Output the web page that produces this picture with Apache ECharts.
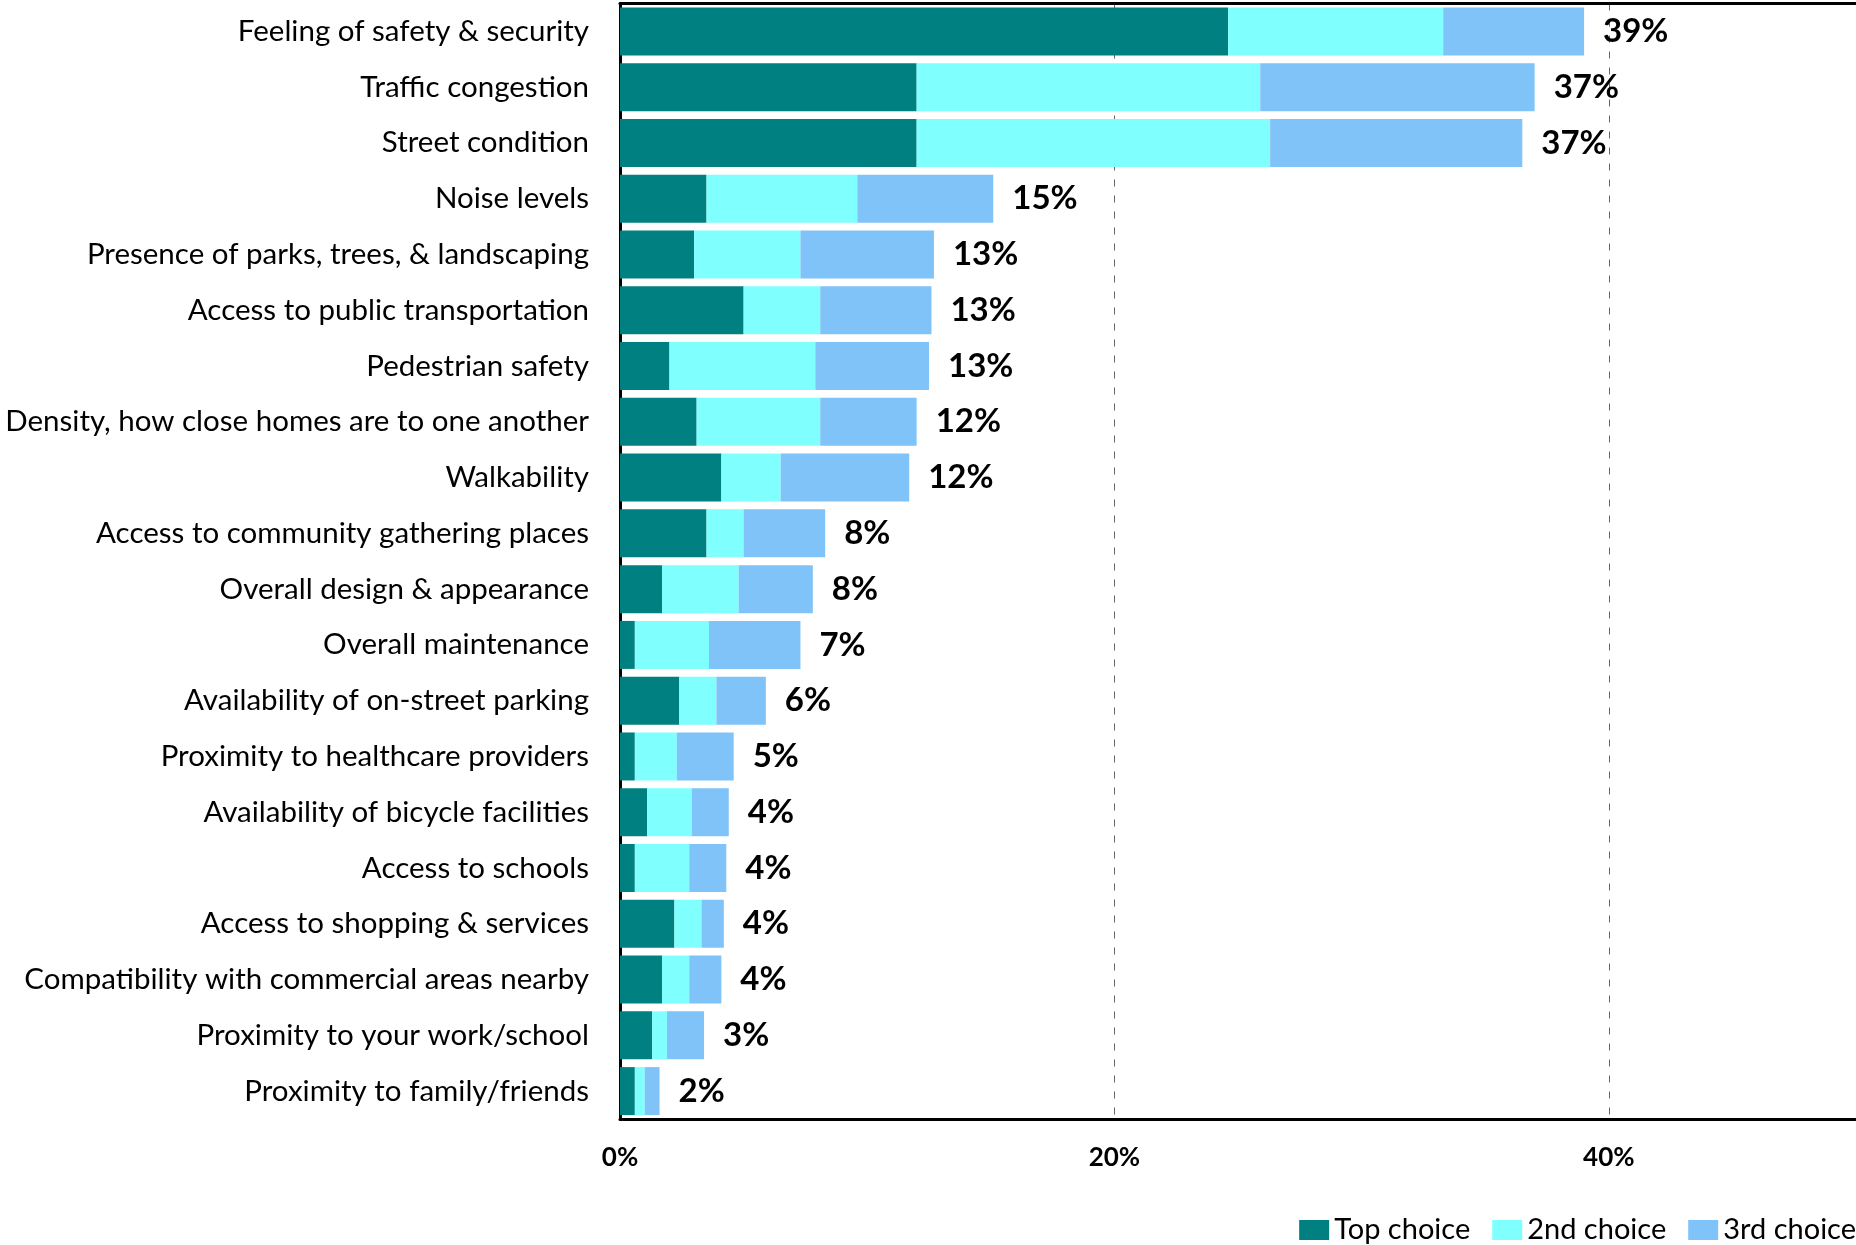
<!DOCTYPE html>
<html>
<head>
<meta charset="utf-8">
<title>Neighborhood priorities</title>
<script src="https://cdn.jsdelivr.net/npm/echarts@6/dist/echarts.min.js"></script>
<style>
  html, body { margin: 0; padding: 0; background: #fff; }
  #chart { width: 1856px; height: 1245px; }
</style>
</head>
<body>
<div id="chart"></div>
<script>
// Survey items, top to bottom
const categories = [
  'Feeling of safety & security',
  'Traffic congestion',
  'Street condition',
  'Noise levels',
  'Presence of parks, trees, & landscaping',
  'Access to public transportation',
  'Pedestrian safety',
  'Density, how close homes are to one another',
  'Walkability',
  'Access to community gathering places',
  'Overall design & appearance',
  'Overall maintenance',
  'Availability of on-street parking',
  'Proximity to healthcare providers',
  'Availability of bicycle facilities',
  'Access to schools',
  'Access to shopping & services',
  'Compatibility with commercial areas nearby',
  'Proximity to your work/school',
  'Proximity to family/friends'
];

// Share of respondents (%) per rank
const topChoice    = [24.6, 12.0, 12.0, 3.5, 3.0, 5.0, 2.0, 3.1, 4.1, 3.5, 1.7, 0.6, 2.4, 0.6, 1.1, 0.6, 2.2, 1.7, 1.3, 0.6];
const secondChoice = [ 8.7, 13.9, 14.3, 6.1, 4.3, 3.1, 5.9, 5.0, 2.4, 1.5, 3.1, 3.0, 1.5, 1.7, 1.8, 2.2, 1.1, 1.1, 0.6, 0.4];
const thirdChoice  = [ 5.7, 11.1, 10.2, 5.5, 5.4, 4.5, 4.6, 3.9, 5.2, 3.3, 3.0, 3.7, 2.0, 2.3, 1.5, 1.5, 0.9, 1.3, 1.5, 0.6];

const seriesNames = ['Top choice', '2nd choice', '3rd choice'];
const xTicks = [0, 20, 40];
const xMax = 50;

const totals = categories.map((_, i) => topChoice[i] + secondChoice[i] + thirdChoice[i]);

const FONT = 'Lato, "Open Sans", sans-serif';
const colors = ['#008080', '#80FFFF', '#7FC3F8'];

const chart = echarts.init(document.getElementById('chart'), null, { renderer: 'canvas' });

function barSeries(name, data, color, withTotal) {
  const s = {
    name: name,
    type: 'bar',
    stack: 'rank',
    data: data,
    barWidth: 48,
    itemStyle: { color: color },
    emphasis: { disabled: true },
    animation: false
  };
  if (withTotal) {
    s.label = {
      show: true,
      position: 'right',
      distance: 19,
      fontFamily: FONT,
      fontWeight: 'bold',
      fontSize: 33,
      color: '#000',
      formatter: p => Math.round(totals[p.dataIndex]) + '%'
    };
  }
  return s;
}

chart.setOption({
  backgroundColor: '#fff',
  animation: false,
  color: colors,
  grid: {
    left: 620,
    width: 1238,
    top: 3.5,
    height: 1115.5
  },
  legend: {
    data: seriesNames,
    right: 0,
    top: 1212,
    padding: 0,
    itemWidth: 30,
    itemHeight: 20,
    itemGap: 22,
    icon: 'rect',
    textStyle: { fontFamily: FONT, fontSize: 29, color: '#000', lineHeight: 36 }
  },
  xAxis: [
    {
      type: 'value',
      min: xTicks[0],
      max: xMax,
      interval: xTicks[1] - xTicks[0],
      axisLine: { show: true, lineStyle: { color: '#000', width: 3 } },
      axisTick: { show: false },
      splitLine: { show: true, lineStyle: { color: '#666', width: 1, type: [7, 9] } },
      axisLabel: {
        margin: 26,
        showMaxLabel: false,
        fontFamily: FONT,
        fontWeight: 'bold',
        fontSize: 26,
        color: '#000',
        formatter: v => v + '%'
      }
    },
    {
      // top edge of the plot frame
      type: 'value',
      position: 'top',
      min: xTicks[0],
      max: xMax,
      interval: xTicks[1] - xTicks[0],
      axisLine: { show: true, lineStyle: { color: '#000', width: 3 } },
      axisTick: { show: false },
      splitLine: { show: false },
      axisLabel: { show: false }
    }
  ],
  yAxis: {
    type: 'category',
    data: categories,
    inverse: true,
    axisLine: { show: true, lineStyle: { color: '#000', width: 3 } },
    axisTick: { show: false },
    axisLabel: {
      margin: 31,
      fontFamily: FONT,
      fontSize: 29.5,
      color: '#000'
    }
  },
  series: [
    barSeries(seriesNames[0], topChoice, colors[0], false),
    barSeries(seriesNames[1], secondChoice, colors[1], false),
    barSeries(seriesNames[2], thirdChoice, colors[2], true)
  ]
});
</script>
</body>
</html>
